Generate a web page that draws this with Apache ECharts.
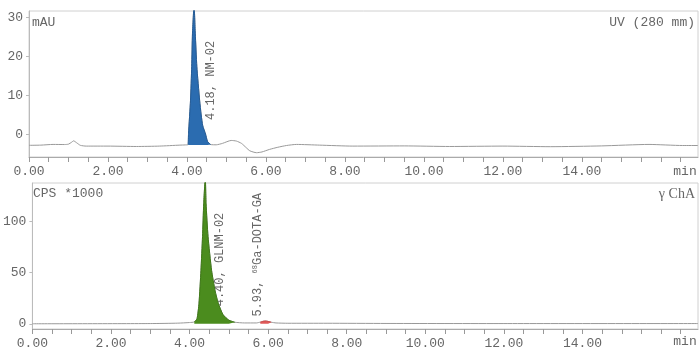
<!DOCTYPE html>
<html>
<head>
<meta charset="utf-8">
<script src="https://cdn.jsdelivr.net/npm/echarts@6/dist/echarts.min.js"></script>
<style>
html,body{margin:0;padding:0;background:#fff;}
#c{width:700px;height:355px;}
</style>
</head>
<body>
<div id="c"></div>
<script>
// ---- UV trace (mAU) ----
var uvTime   = [0, 0.3, 0.61, 0.9, 1.0, 1.08, 1.13, 1.2, 1.3, 1.45, 2.0, 2.72, 3.3, 3.82, 3.95, 4.03, 4.04, 4.09, 4.12, 4.14, 4.18, 4.21, 4.25, 4.32, 4.36, 4.40, 4.47, 4.52, 4.6, 4.74, 4.9, 5.12, 5.25, 5.38, 5.5, 5.59, 5.76, 5.9, 6.09, 6.3, 6.52, 6.77, 7.36, 8.2, 9.5, 10.65, 12.0, 13.2, 14.5, 15.7, 16.55, 16.94];
var uvSignal = [-2.8, -2.75, -2.57, -2.6, -2.5, -2.0, -1.65, -2.1, -2.8, -3.0, -3.0, -3.1, -3.0, -2.75, -2.7, -2.6, 0.3, 8.8, 17.4, 26, 33, 26, 17.4, 8.8, 5.0, 2.2, 0.1, -1.8, -2.6, -2.67, -2.3, -1.55, -1.7, -2.3, -3.4, -4.2, -4.7, -4.5, -3.85, -3.3, -2.85, -2.57, -2.75, -3.0, -2.95, -3.1, -3.0, -3.15, -2.95, -2.57, -2.85, -2.85];
var uvPeak = {label: '4.18, NM-02', time: 4.18, start: 4.03, end: 4.6, base: -2.7, color: '#2b6cb0'};

// ---- Gamma trace (CPS *1000) ----
var gammaTime   = [0, 3.0, 3.7, 4.0, 4.12, 4.19, 4.24, 4.29, 4.33, 4.36, 4.40, 4.42, 4.47, 4.56, 4.65, 4.73, 4.85, 5.0, 5.15, 5.4, 5.7, 5.8, 5.87, 5.93, 6.0, 6.08, 6.2, 6.5, 7.5, 9.0, 12.0, 16.94];
var gammaSignal = [0, 0.2, 0.6, 1.2, 1.8, 5, 20, 52, 85, 117, 142, 117, 85, 52, 32, 20, 9, 3.5, 1.5, 0.8, 0.8, 1.6, 2.4, 2.7, 2.3, 1.5, 0.8, 0.5, 0.5, 0.3, 0.2, 0.2];
var gammaPeaks = [
  {time: 4.40, start: 4.12, end: 5.2, color: '#4b8c1e', line: '#3f7a18'},
  {time: 5.93, start: 5.75, end: 6.15, color: '#e05a5a', line: '#d04848'}
];

// ---- axis ticks ----
var xLabelValues = [0, 2, 4, 6, 8, 10, 12, 14];
var xTickValues = [0,0.5,1,1.5,2,2.5,3,3.5,4,4.5,5,5.5,6,6.5,7,7.5,8,8.5,9,9.5,10,10.5,11,11.5,12,12.5,13,13.5,14,14.5,15,15.5,16,16.5];
var uvYLabels = [0, 10, 20, 30];
var gammaYLabels = [0, 50, 100];

var FONT = "'Liberation Mono', monospace";
var TXT = '#666';
var SMOOTH = 0.2;

function pairs(t, v) { return t.map(function (x, i) { return [x, v[i]]; }); }
function sub(t, v, a, b) {
  var out = [];
  t.forEach(function (x, i) { if (x >= a && x <= b) out.push([x, v[i]]); });
  return out;
}

function xAxisDef(gi) {
  return {
    type: 'value', gridIndex: gi, min: 0, max: 16.94,
    axisLine: {show: true, onZero: false, lineStyle: {color: '#aaa', width: 1}},
    axisTick: {show: true, length: 5, lineStyle: {color: '#999'}, customValues: xTickValues},
    axisLabel: {customValues: xLabelValues, formatter: function (v) { return v.toFixed(2); },
      fontFamily: FONT, fontSize: 13, color: TXT, margin: 8},
    splitLine: {show: false}
  };
}
function yAxisDef(gi, min, max, labels) {
  return {
    type: 'value', gridIndex: gi, min: min, max: max,
    axisLine: {show: true, lineStyle: {color: '#bbb'}},
    axisTick: {show: true, length: 3, lineStyle: {color: '#bbb'}, customValues: labels},
    axisLabel: {customValues: labels, fontFamily: FONT, fontSize: 13, color: TXT, margin: 6},
    splitLine: {show: false}
  };
}

var chart = echarts.init(document.getElementById('c'), null, {renderer: 'canvas'});
var series = [
  {type: 'line', xAxisIndex: 0, yAxisIndex: 0, data: pairs(uvTime, uvSignal), showSymbol: false, smooth: SMOOTH,
    lineStyle: {color: '#999', width: 1}, silent: true, z: 2},
  {type: 'line', xAxisIndex: 0, yAxisIndex: 0, data: sub(uvTime, uvSignal, uvPeak.start, uvPeak.end), showSymbol: false, smooth: SMOOTH,
    lineStyle: {color: '#245c98', width: 1}, areaStyle: {color: uvPeak.color, opacity: 1, origin: uvPeak.base}, silent: true, z: 3}
];
series.push({type: 'line', xAxisIndex: 1, yAxisIndex: 1, data: pairs(gammaTime, gammaSignal), showSymbol: false, smooth: SMOOTH,
  lineStyle: {color: '#999', width: 1}, silent: true, z: 2});
gammaPeaks.forEach(function (p) {
  series.push({type: 'line', xAxisIndex: 1, yAxisIndex: 1, data: sub(gammaTime, gammaSignal, p.start, p.end), showSymbol: false, smooth: SMOOTH,
    lineStyle: {color: p.line, width: 1}, areaStyle: {color: p.color, opacity: 1, origin: 0}, silent: true, z: 3});
});

chart.setOption({
  animation: false,
  backgroundColor: '#fff',
  grid: [
    {left: 29, right: 2, top: 11, height: 146, show: true, borderColor: '#d0d0d0', borderWidth: 1},
    {left: 29, right: 2, top: 183, height: 146, show: true, borderColor: '#d0d0d0', borderWidth: 1}
  ],
  xAxis: [xAxisDef(0), xAxisDef(1)],
  yAxis: [yAxisDef(0, -5.8, 31.7, uvYLabels), yAxisDef(1, -5.1, 137.2, gammaYLabels)],
  series: series
});

// annotations placed through the chart's own scales
var p1 = chart.convertToPixel({xAxisIndex: 0, yAxisIndex: 0}, [uvPeak.time, 3.7]);
var p2 = chart.convertToPixel({xAxisIndex: 1, yAxisIndex: 1}, [gammaPeaks[0].time, 17]);
var p3 = chart.convertToPixel({xAxisIndex: 1, yAxisIndex: 1}, [gammaPeaks[1].time, 7]);

var rotTxt = {fontFamily: FONT, fontSize: 12, fill: TXT, align: 'left', verticalAlign: 'middle'};
chart.setOption({
  graphic: [
    {type: 'text', left: 32, top: 16, style: {text: 'mAU', fontFamily: FONT, fontSize: 13, fill: TXT}},
    {type: 'text', right: 5, top: 16, style: {text: 'UV (280 mm)', fontFamily: FONT, fontSize: 13, fill: TXT}},
    {type: 'text', left: 33, top: 187, style: {text: 'CPS *1000', fontFamily: FONT, fontSize: 13, fill: TXT}},
    {type: 'text', right: 5, top: 187, style: {text: 'γ ChA', fontFamily: "'Liberation Serif', serif", fontSize: 14, fill: TXT}},
    {type: 'text', x: 685, y: 171.5, style: {text: 'min', fontFamily: FONT, fontSize: 13, fill: TXT, align: 'center', verticalAlign: 'middle'}},
    {type: 'text', x: 685, y: 341.5, style: {text: 'min', fontFamily: FONT, fontSize: 13, fill: TXT, align: 'center', verticalAlign: 'middle'}},
    {type: 'text', x: p1[0] + 17, y: p1[1], rotation: Math.PI / 2, style: Object.assign({text: uvPeak.label}, rotTxt)},
    {type: 'text', x: p2[0] + 15, y: p2[1], rotation: Math.PI / 2, style: Object.assign({text: '4.40, GLNM-02'}, rotTxt)},
    {type: 'text', x: p3[0] - 7.5, y: p3[1], rotation: Math.PI / 2, style: Object.assign({
      text: '{a|5.93, }{s|68}{a|Ga-DOTA-GA}',
      rich: {a: {fontFamily: FONT, fontSize: 12, fill: TXT, color: TXT},
             s: {fontFamily: FONT, fontSize: 7, color: TXT, verticalAlign: 'top', padding: [0, 0, 6, 0]}}
    }, rotTxt)}
  ]
});
</script>
</body>
</html>
